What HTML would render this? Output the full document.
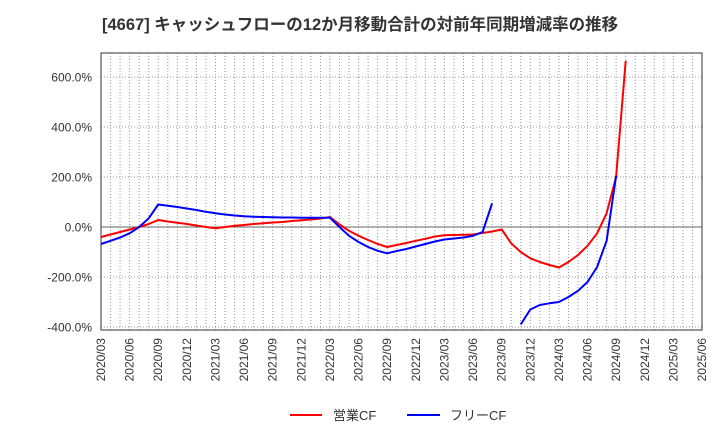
<!DOCTYPE html>
<html><head><meta charset="utf-8"><style>
body{margin:0;background:#fff;width:720px;height:440px;overflow:hidden}
svg{display:block;font-family:"Liberation Sans","Noto Sans CJK JP",sans-serif}
</style></head><body>
<svg id="c" width="720" height="440">
<text x="102" y="30" font-size="16.5" font-weight="bold" fill="#333">[4667]  キャッシュフローの12か月移動合計の対前年同期増減率の推移</text>
<g id="grid"></g><g id="axes"></g><g id="series"></g>
<g>
<line x1="290" y1="415" x2="322" y2="415" stroke="#f00" stroke-width="2"/>
<text x="333" y="420" font-size="13" fill="#333">営業CF</text>
<line x1="407" y1="415" x2="440" y2="415" stroke="#00f" stroke-width="2"/>
<text x="450" y="420" font-size="13" fill="#333">フリーCF</text>
</g>
</svg>
<script>
const xLabels=["2020/03","2020/06","2020/09","2020/12","2021/03","2021/06","2021/09","2021/12","2022/03","2022/06","2022/09","2022/12","2023/03","2023/06","2023/09","2023/12","2024/03","2024/06","2024/09","2024/12","2025/03","2025/06"];
const yTicks=[-400,-200,0,200,400,600];
// monthly values starting 2020/03 (null = no data)
const operatingCF=[-40,-30,-20,-10,0,12,28,22,17,12,6,0,-5,0,5,8,12,15,18,20,24,27,30,34,40,10,-15,-35,-52,-68,-80,-72,-64,-55,-47,-38,-33,-32,-31,-30,-24,-18,-10,-65,-100,-125,-140,-152,-162,-140,-112,-75,-25,55,200,665];
const freeCF=[-68,-55,-42,-25,0,35,90,85,80,74,68,61,55,50,46,43,41,40,39,38,38,37,37,37,37,0,-35,-60,-80,-95,-105,-96,-88,-78,-68,-58,-50,-46,-42,-35,-20,95,null,null,-390,-330,-312,-305,-300,-280,-255,-220,-160,-55,205];
const L=101,R=702,T=53,B=330,NM=63;
const X=i=>L+i*(R-L)/NM;
const Y=v=>227-(v)*0.25;
const ns="http://www.w3.org/2000/svg";
function mk(t,a,p){const e=document.createElementNS(ns,t);for(const k in a)e.setAttribute(k,a[k]);p.appendChild(e);return e;}
const grid=document.getElementById('grid'),axes=document.getElementById('axes'),ser=document.getElementById('series');
for(let i=1;i<NM;i++){const l=mk('line',{x1:X(i),x2:X(i),y1:T,y2:B,stroke:'#999','stroke-width':1,'stroke-dasharray':'1,2'},grid);

}
yTicks.forEach(v=>{const y=Y(v);
const l=mk('line',{x1:L,x2:R,y1:y,y2:y,stroke:v===0?'#666':'#999','stroke-width':1,'stroke-dasharray':v===0?'':'1,2'},grid);


const t=mk('text',{x:L-9,y:y+4.5,'text-anchor':'end','font-size':12,fill:'#333'},axes);t.textContent=v.toFixed(1)+'%';

});
const f=mk('rect',{x:L,y:T,width:R-L,height:B-T,fill:'none',stroke:'#333','stroke-width':1},axes);


xLabels.forEach((s,i)=>{const x=X(i*3);const t=mk('text',{x:0,y:0,'text-anchor':'end','font-size':12,fill:'#333',transform:`translate(${x+4},${B+8}) rotate(-90)`},axes);t.textContent=s;

});
function draw(arr,col,name){let d='',pen=false;arr.forEach((v,i)=>{if(v===null){pen=false;return;}d+=(pen?'L':'M')+X(i).toFixed(1)+' '+Y(v).toFixed(1)+' ';pen=true;});
const p=mk('path',{d:d,fill:'none',stroke:col,'stroke-width':2,'stroke-linejoin':'round'},ser);

}
draw(operatingCF,'#f00','operating-cf-line');
draw(freeCF,'#00f','free-cf-line');
</script>
</body></html>
